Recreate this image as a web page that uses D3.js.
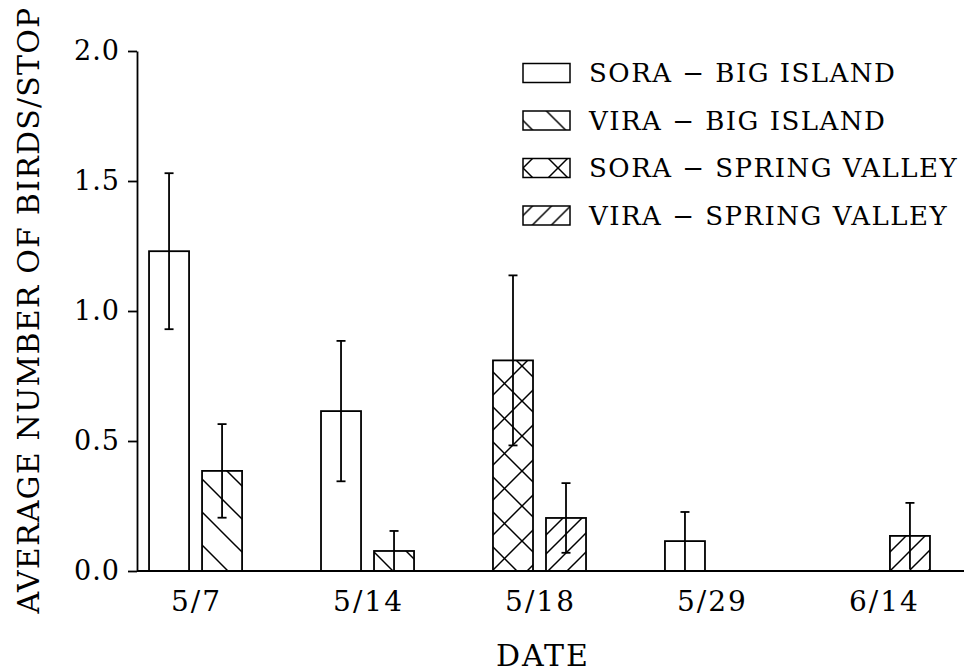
<!DOCTYPE html>
<html>
<head>
<meta charset="utf-8">
<script src="https://cdn.jsdelivr.net/npm/d3@7"></script>
<style>
  body { margin: 0; background: #fff; }
  svg { display: block; font-family: "DejaVu Serif", serif; }
</style>
</head>
<body>
<svg id="chart" width="968" height="672"></svg>
<script>
// dates on the x axis
var dates = ["5/7", "5/14", "5/18", "5/29", "6/14"];
var seriesNames = ["SORA \u2212 BIG ISLAND", "VIRA \u2212 BIG ISLAND", "SORA \u2212 SPRING VALLEY", "VIRA \u2212 SPRING VALLEY"];
var species = ["SORA", "VIRA"];

// means per date (null = no bar)
var soraBigIsland   = [1.23, 0.615, null, 0.115, null];
var viraBigIsland   = [0.385, 0.077, null, null, null];
var soraSpringValley = [null, null, 0.81, null, null];
var viraSpringValley = [null, null, 0.204, null, 0.135];

// standard errors
var soraBigIslandErr   = [0.30, 0.27, null, 0.112, null];
var viraBigIslandErr   = [0.18, 0.077, null, null, null];
var soraSpringValleyErr = [null, null, 0.327, null, null];
var viraSpringValleyErr = [null, null, 0.134, null, 0.127];

var yTicks = [0, 0.5, 1.0, 1.5, 2.0];

var allValues = [soraBigIsland, viraBigIsland, soraSpringValley, viraSpringValley];
var allErrs = [soraBigIslandErr, viraBigIslandErr, soraSpringValleyErr, viraSpringValleyErr];

// flatten into bar records
var bars = [];
seriesNames.forEach(function(name, s) {
    allValues[s].forEach(function(v, i) {
        if (v === null) return;
        bars.push({series: s, date: dates[i], species: name.split(" ")[0], value: v, err: allErrs[s][i]});
    });
});

var margin = {top: 51, right: 4, bottom: 101, left: 137},
    width = 968 - margin.left - margin.right,
    height = 672 - margin.top - margin.bottom;

var svg = d3.select("#chart");
var ink = "#000";

// hatch patterns
var defs = svg.append("defs");
function hatch(id, size, paths) {
    var p = defs.append("pattern")
        .attr("id", id)
        .attr("patternUnits", "userSpaceOnUse")
        .attr("width", size)
        .attr("height", size);
    p.append("rect").attr("width", size).attr("height", size).attr("fill", "#fff");
    paths.forEach(function(d) {
        p.append("path").attr("d", d).attr("stroke", ink).attr("stroke-width", 1.5).attr("fill", "none");
    });
}
hatch("back", 33, ["M-5,-5 L38,38", "M-5,28 L5,38", "M28,-5 L38,5"]);
hatch("cross", 35, ["M-5,-5 L40,40", "M-5,40 L40,-5", "M-5,30 L5,40", "M30,-5 L40,5", "M-5,5 L5,-5", "M30,40 L40,30"]);
hatch("fwd", 19, ["M-5,24 L24,-5", "M-5,5 L5,-5", "M14,24 L24,14"]);

var fills = ["#fff", "url(#back)", "url(#cross)", "url(#fwd)"];

var g = svg.append("g")
    .attr("transform", "translate(" + margin.left + "," + margin.top + ")");

var x = d3.scaleBand()
    .domain(dates)
    .range([0, 805])
    .paddingInner(0.459)
    .paddingOuter(0.07);

var xSub = d3.scaleBand()
    .domain(species)
    .range([0, x.bandwidth()])
    .paddingInner(0.245);

var y = d3.scaleLinear()
    .domain([0, 2])
    .range([height, 0]);

// bars
g.selectAll(".bar")
    .data(bars)
    .enter()
    .append("rect")
    .attr("class", "bar")
    .attr("x", function(d) { return x(d.date) + xSub(d.species); })
    .attr("y", function(d) { return y(d.value); })
    .attr("width", xSub.bandwidth())
    .attr("height", function(d) { return height - y(d.value); })
    .attr("fill", function(d) { return fills[d.series]; })
    .attr("stroke", ink)
    .attr("stroke-width", 1.8);

// error bars
var cx = function(d) { return x(d.date) + xSub(d.species) + xSub.bandwidth() / 2; };
g.selectAll(".err")
    .data(bars)
    .enter()
    .append("line")
    .attr("class", "err")
    .attr("x1", cx).attr("x2", cx)
    .attr("y1", function(d) { return y(Math.max(0, d.value - d.err)); })
    .attr("y2", function(d) { return y(d.value + d.err); })
    .attr("stroke", ink)
    .attr("stroke-width", 1.8);

g.selectAll(".cap-top")
    .data(bars)
    .enter()
    .append("line")
    .attr("x1", function(d) { return cx(d) - 4.5; })
    .attr("x2", function(d) { return cx(d) + 4.5; })
    .attr("y1", function(d) { return y(d.value + d.err); })
    .attr("y2", function(d) { return y(d.value + d.err); })
    .attr("stroke", ink)
    .attr("stroke-width", 1.8);

g.selectAll(".cap-bot")
    .data(bars.filter(function(d) { return d.value - d.err > 0.02; }))
    .enter()
    .append("line")
    .attr("x1", function(d) { return cx(d) - 4.5; })
    .attr("x2", function(d) { return cx(d) + 4.5; })
    .attr("y1", function(d) { return y(d.value - d.err); })
    .attr("y2", function(d) { return y(d.value - d.err); })
    .attr("stroke", ink)
    .attr("stroke-width", 1.8);

// Y axis
var yAxis = g.append("g")
    .call(d3.axisLeft(y).tickValues(yTicks).tickFormat(d3.format(".1f")).tickSize(9).tickSizeOuter(0).tickPadding(8));
yAxis.selectAll("path, line").attr("stroke", ink).attr("stroke-width", 1.8);
yAxis.selectAll("text")
    .attr("font-size", "27px")
    .attr("font-family", "DejaVu Serif")
    .attr("letter-spacing", "1px")
    .attr("fill", ink);

// X axis
var xAxis = g.append("g")
    .attr("transform", "translate(0," + height + ")")
    .call(d3.axisBottom(x).tickSize(0).tickPadding(20));
xAxis.select(".domain").remove();
xAxis.selectAll("text")
    .attr("font-size", "28px")
    .attr("font-family", "DejaVu Serif")
    .attr("letter-spacing", "2px")
    .attr("dx", "1px")
    .attr("fill", ink);
g.append("line")
    .attr("x1", 0).attr("x2", width)
    .attr("y1", height).attr("y2", height)
    .attr("stroke", ink)
    .attr("stroke-width", 1.8);

// axis titles
svg.append("text")
    .attr("x", 543)
    .attr("y", 666)
    .attr("text-anchor", "middle")
    .attr("font-size", "30px")
    .attr("letter-spacing", "2px")
    .attr("fill", ink)
    .text("DATE");

svg.append("text")
    .attr("transform", "rotate(-90)")
    .attr("x", -310)
    .attr("y", 39)
    .attr("text-anchor", "middle")
    .attr("font-size", "30px")
    .attr("letter-spacing", "1.2px")
    .attr("fill", ink)
    .text("AVERAGE NUMBER OF BIRDS/STOP");

// legend
var legend = svg.append("g").attr("transform", "translate(523,73)");
var rows = legend.selectAll(".row")
    .data(seriesNames)
    .enter()
    .append("g")
    .attr("transform", function(d, i) { return "translate(0," + (i * 47.5) + ")"; });
rows.append("rect")
    .attr("x", 0).attr("y", -9.5)
    .attr("width", 47).attr("height", 19)
    .attr("fill", function(d, i) { return fills[i]; })
    .attr("stroke", ink)
    .attr("stroke-width", 1.5);
rows.append("text")
    .attr("x", 66)
    .attr("dy", "0.36em")
    .attr("font-size", "26px")
    .attr("letter-spacing", "1.5px")
    .attr("fill", ink)
    .text(function(d) { return d; });
</script>
</body>
</html>
